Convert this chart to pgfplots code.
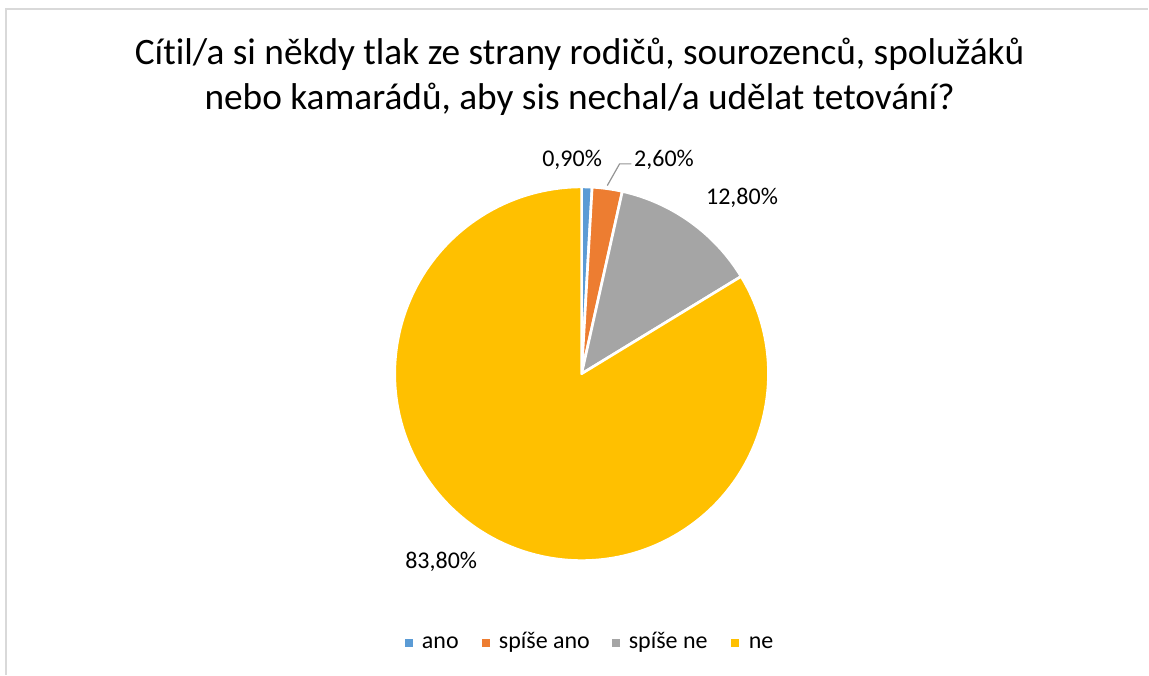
\documentclass[border=0pt]{standalone}
\usepackage{pgfplots}
\pgfplotsset{compat=1.18}
\usepackage{pgfplotstable}
\usepackage{fontspec}
\setmainfont[Ligatures=NoCommon]{Carlito}

\definecolor{c0}{HTML}{5B9BD5}
\definecolor{c1}{HTML}{ED7D31}
\definecolor{c2}{HTML}{A5A5A5}
\definecolor{c3}{HTML}{FFC000}
\definecolor{txt}{HTML}{595959}
\definecolor{frame}{HTML}{D9D9D9}

% podíly odpovědí v %
\pgfplotstableread{
idx value
0 0.9
1 2.6
2 12.8
3 83.8
}\piedata

\begin{document}
\begin{tikzpicture}
% úhly výsečí (od 90 stupňů po směru hodin)
\xdef\total{0}
\foreach \i in {0,...,3}{
  \pgfplotstablegetelem{\i}{value}\of\piedata
  \pgfmathsetmacro\t{\total+\pgfplotsretval}
  \xdef\total{\t}
}
\xdef\acc{0}
\foreach \i in {0,...,3}{
  \pgfplotstablegetelem{\i}{value}\of\piedata
  \pgfmathsetmacro\a{90-3.6*(\acc*100/\total)}
  \pgfmathsetmacro\n{\acc+\pgfplotsretval}
  \pgfmathsetmacro\b{90-3.6*(\n*100/\total)}
  \expandafter\xdef\csname sa\i\endcsname{\a}
  \expandafter\xdef\csname sb\i\endcsname{\b}
  \xdef\acc{\n}
}
\begin{axis}[
  x=0.75pt, y=0.75pt,
  xmin=0, xmax=1149, ymin=0, ymax=675,
  hide axis, clip=false,
  every node/.style={text=txt},
]
\path (axis cs:0,0) rectangle (axis cs:1149,675);
\draw[frame, line width=1.2pt] (axis cs:6,0) -- (axis cs:6,666) -- (axis cs:1149,666);

\pgfplotsinvokeforeach{0,...,3}{
  \filldraw[fill=c#1, draw=white, line width=2pt, line join=round]
    (axis cs:582,301) -- ++(\csname sa#1\endcsname:140.25pt)
    arc[start angle=\csname sa#1\endcsname, end angle=\csname sb#1\endcsname, radius=140.25pt] -- cycle;
}

% titulek
\node[anchor=base, font=\fontsize{28}{33}\selectfont] at (axis cs:580,610)
  {Cítil/a si někdy tlak ze strany rodičů, sourozenců, spolužáků};
\node[anchor=base, font=\fontsize{28}{33}\selectfont] at (axis cs:580,565)
  {nebo kamarádů, aby sis nechal/a udělat tetování?};

% popisky dat
\draw[c2!90!black, line width=0.9pt] (axis cs:607.7,489.3) -- (axis cs:620,511) -- (axis cs:631.7,511);
\node[anchor=base, font=\fontsize{18}{22}\selectfont] at (axis cs:572.5,508.3) {0,90\%};
\node[anchor=base, font=\fontsize{18}{22}\selectfont] at (axis cs:664.5,508.3) {2,60\%};
\node[anchor=base, font=\fontsize{18}{22}\selectfont] at (axis cs:742.5,470.7) {12,80\%};
\node[anchor=base, font=\fontsize{18}{22}\selectfont] at (axis cs:441.5,105.7) {83,80\%};

% legenda
\fill[c0] (axis cs:405,28) rectangle (axis cs:413,36);
\fill[c1] (axis cs:482,28) rectangle (axis cs:490,36);
\fill[c2] (axis cs:612,28) rectangle (axis cs:620,36);
\fill[c3] (axis cs:732,28) rectangle (axis cs:740,36);
\node[anchor=base west, inner xsep=0pt, font=\fontsize{18}{22}\selectfont] at (axis cs:422,26) {ano};
\node[anchor=base west, inner xsep=0pt, font=\fontsize{18}{22}\selectfont] at (axis cs:499,26) {spíše ano};
\node[anchor=base west, inner xsep=0pt, font=\fontsize{18}{22}\selectfont] at (axis cs:629,26) {spíše ne};
\node[anchor=base west, inner xsep=0pt, font=\fontsize{18}{22}\selectfont] at (axis cs:749,26) {ne};
\end{axis}
\end{tikzpicture}
\end{document}
